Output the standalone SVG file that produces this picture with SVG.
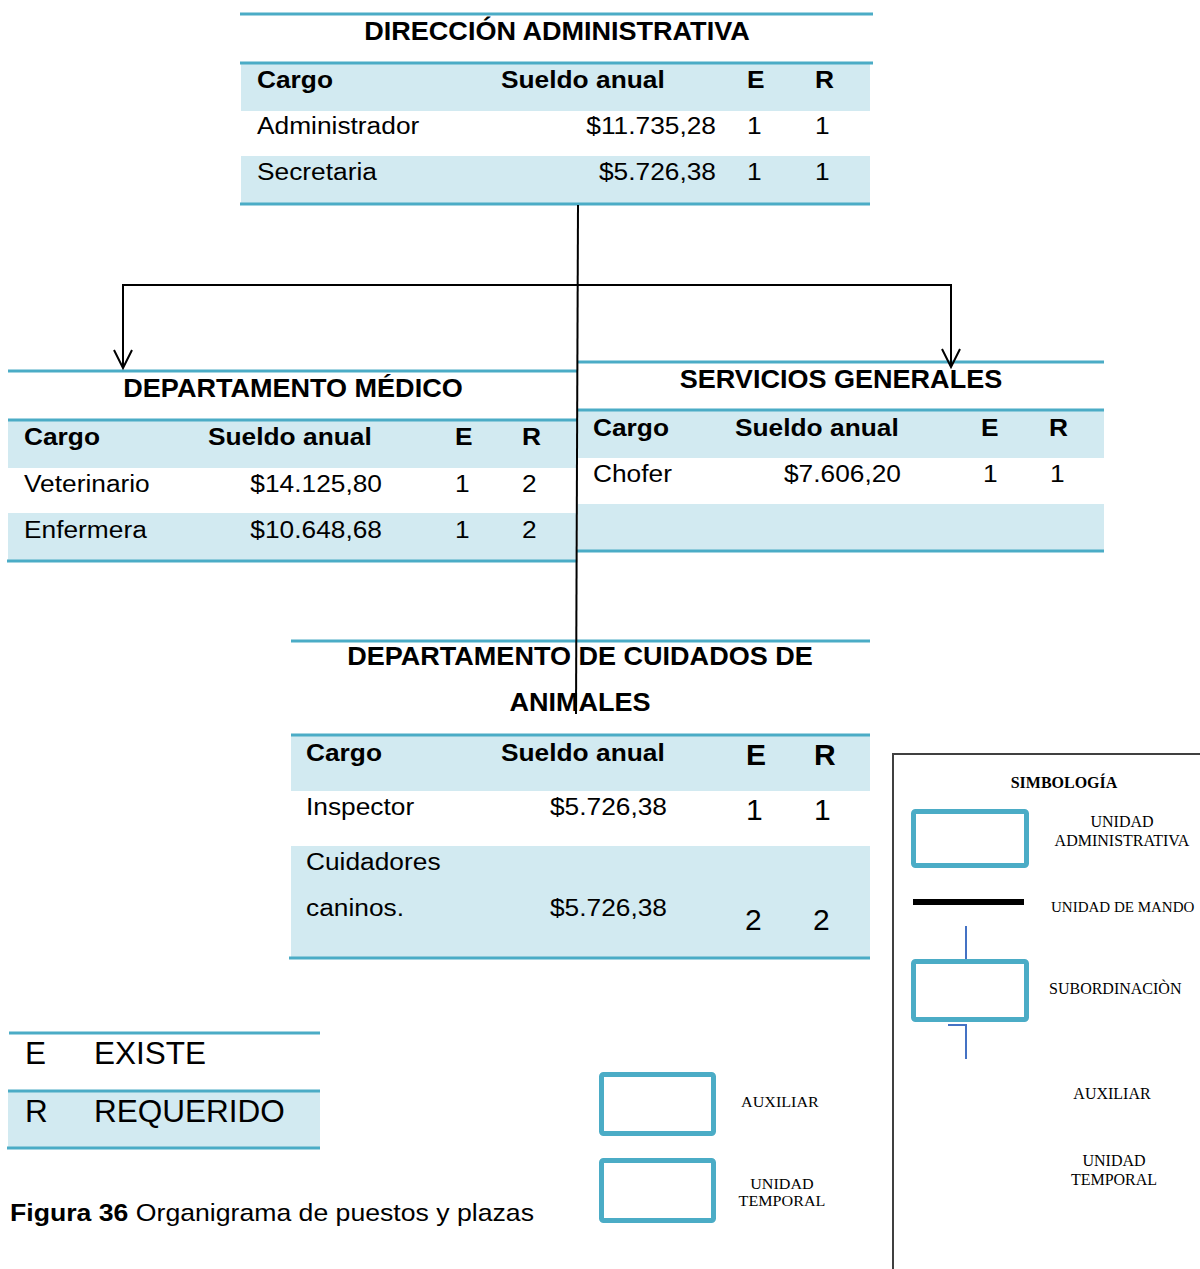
<svg xmlns="http://www.w3.org/2000/svg" width="1200" height="1269" viewBox="0 0 1200 1269">
<style>
text{font-family:"Liberation Sans",Arial,sans-serif;fill:#000}
.tl{stroke:#4BACC6;stroke-width:3}
.band{fill:#D2EAF1}
.ttl{font-size:26px;font-weight:bold;text-anchor:middle;transform-box:fill-box;transform-origin:50% 50%;transform:scaleX(1.04)}
.h{font-size:23.5px;font-weight:bold;transform-box:fill-box;transform-origin:0% 50%;transform:scaleX(1.12)}
.c{font-size:23.5px;transform-box:fill-box;transform-origin:0% 50%;transform:scaleX(1.12)}
.m{font-size:23.5px;text-anchor:end;transform-box:fill-box;transform-origin:100% 50%;transform:scaleX(1.12)}
.big{font-size:30px}
.bigb{font-size:30px;font-weight:bold}
.leg{font-size:31.5px}
.cap{font-size:24px;transform-box:fill-box;transform-origin:0% 50%;transform:scaleX(1.11)}
.ser{font-family:"Liberation Serif","Times New Roman",serif;font-size:16px;text-anchor:middle}
.sers{font-family:"Liberation Serif","Times New Roman",serif;font-size:16px;text-anchor:start}
.sm{font-family:"Liberation Serif","Times New Roman",serif;font-size:14px;text-anchor:middle;transform-box:fill-box;transform-origin:50% 50%;transform:scaleX(1.15)}
.box{fill:none;stroke:#4BACC6;stroke-width:5}
.con{stroke:#000;stroke-width:2;fill:none}
.blue{stroke:#4472C4;stroke-width:2;fill:none}
</style>

<g id="direccion-administrativa">
<rect class="band" x="241" y="63" width="629" height="48"/>
<rect class="band" x="241" y="156" width="629" height="47"/>
<line class="tl" x1="240" y1="14" x2="873" y2="14"/>
<line class="tl" x1="240" y1="63" x2="873" y2="63"/>
<line class="tl" x1="240" y1="204" x2="870" y2="204"/>
<text class="ttl" x="557" y="40">DIRECCIÓN ADMINISTRATIVA</text>
<text class="h" x="257" y="88">Cargo</text>
<text class="h" x="501" y="88">Sueldo anual</text>
<text class="h" x="747" y="88">E</text>
<text class="h" x="815" y="88">R</text>
<text class="c" x="257" y="134">Administrador</text>
<text class="m" x="716" y="134">$11.735,28</text>
<text class="c" x="747" y="134">1</text>
<text class="c" x="815" y="134">1</text>
<text class="c" x="257" y="180">Secretaria</text>
<text class="m" x="716" y="180">$5.726,38</text>
<text class="c" x="747" y="180">1</text>
<text class="c" x="815" y="180">1</text>
</g>

<g id="departamento-medico">
<rect class="band" x="8" y="420" width="568" height="48"/>
<rect class="band" x="8" y="513" width="568" height="47"/>
<line class="tl" x1="8" y1="371" x2="577" y2="371"/>
<line class="tl" x1="8" y1="420" x2="577" y2="420"/>
<line class="tl" x1="7" y1="561" x2="577" y2="561"/>
<text class="ttl" x="293" y="397">DEPARTAMENTO MÉDICO</text>
<text class="h" x="24" y="445">Cargo</text>
<text class="h" x="208" y="445">Sueldo anual</text>
<text class="h" x="455" y="445">E</text>
<text class="h" x="522" y="445">R</text>
<text class="c" x="24" y="492">Veterinario</text>
<text class="m" x="382" y="492">$14.125,80</text>
<text class="c" x="455" y="492">1</text>
<text class="c" x="522" y="492">2</text>
<text class="c" x="24" y="538">Enfermera</text>
<text class="m" x="382" y="538">$10.648,68</text>
<text class="c" x="455" y="538">1</text>
<text class="c" x="522" y="538">2</text>
</g>

<g id="servicios-generales">
<rect class="band" x="578" y="410" width="526" height="48"/>
<rect class="band" x="578" y="504" width="526" height="47"/>
<line class="tl" x1="577" y1="362" x2="1104" y2="362"/>
<line class="tl" x1="577" y1="410" x2="1104" y2="410"/>
<line class="tl" x1="577" y1="551" x2="1104" y2="551"/>
<text class="ttl" x="841" y="388">SERVICIOS GENERALES</text>
<text class="h" x="593" y="436">Cargo</text>
<text class="h" x="735" y="436">Sueldo anual</text>
<text class="h" x="981" y="436">E</text>
<text class="h" x="1049" y="436">R</text>
<text class="c" x="593" y="482">Chofer</text>
<text class="m" x="901" y="482">$7.606,20</text>
<text class="c" x="983" y="482">1</text>
<text class="c" x="1050" y="482">1</text>
</g>

<g id="cuidados-animales">
<rect class="band" x="291" y="735" width="579" height="56"/>
<rect class="band" x="291" y="846" width="579" height="111"/>
<line class="tl" x1="291" y1="641" x2="870" y2="641"/>
<line class="tl" x1="291" y1="735" x2="870" y2="735"/>
<line class="tl" x1="289" y1="958" x2="870" y2="958"/>
<text class="ttl" x="580" y="665">DEPARTAMENTO DE CUIDADOS DE</text>
<text class="ttl" x="580" y="711">ANIMALES</text>
<text class="h" x="306" y="761">Cargo</text>
<text class="h" x="501" y="761">Sueldo anual</text>
<text class="bigb" x="746" y="765">E</text>
<text class="bigb" x="814" y="765">R</text>
<text class="c" x="306" y="815">Inspector</text>
<text class="m" x="667" y="815">$5.726,38</text>
<text class="big" x="746" y="820">1</text>
<text class="big" x="814" y="820">1</text>
<text class="c" x="306" y="870">Cuidadores</text>
<text class="c" x="306" y="916">caninos.</text>
<text class="m" x="667" y="916">$5.726,38</text>
<text class="big" x="745" y="930">2</text>
<text class="big" x="813" y="930">2</text>
</g>

<g id="leyenda-e-r">
<rect class="band" x="8" y="1091" width="312" height="56"/>
<line class="tl" x1="9" y1="1033" x2="320" y2="1033"/>
<line class="tl" x1="8" y1="1091" x2="320" y2="1091"/>
<line class="tl" x1="7" y1="1148" x2="320" y2="1148"/>
<text class="leg" x="25" y="1064">E</text>
<text class="leg" x="94" y="1064">EXISTE</text>
<text class="leg" x="25" y="1122">R</text>
<text class="leg" x="94" y="1122">REQUERIDO</text>
</g>

<g id="caption">
<text class="cap" x="10" y="1221"><tspan font-weight="bold">Figura 36</tspan> Organigrama de puestos y plazas</text>
</g>

<g id="leyenda-cajas">
<rect class="box" x="601.5" y="1074.5" width="112" height="59" rx="2"/>
<text class="sm" x="780" y="1107">AUXILIAR</text>
<rect class="box" x="601.5" y="1160.5" width="112" height="60" rx="2"/>
<text class="sm" x="782" y="1189">UNIDAD</text>
<text class="sm" x="782" y="1206">TEMPORAL</text>
</g>

<g id="simbologia">
<polyline points="893,1269 893,754 1200,754" stroke="#404040" stroke-width="2" fill="none"/>
<text class="ser" x="1064" y="788" style="font-weight:bold">SIMBOLOGÍA</text>
<rect class="box" x="913.5" y="811.5" width="113" height="54" rx="2"/>
<text class="ser" x="1122" y="827">UNIDAD</text>
<text class="ser" x="1122" y="846">ADMINISTRATIVA</text>
<line x1="913" y1="902" x2="1024" y2="902" stroke="#000" stroke-width="6"/>
<text class="sers" x="1051" y="912" style="font-size:15px">UNIDAD DE MANDO</text>
<line class="blue" x1="966" y1="926" x2="966" y2="959"/>
<rect class="box" x="913.5" y="961.5" width="113" height="58" rx="2"/>
<text class="sers" x="1049" y="994">SUBORDINACIÒN</text>
<polyline class="blue" points="948,1025 966,1025 966,1059"/>
<text class="ser" x="1112" y="1099">AUXILIAR</text>
<text class="ser" x="1114" y="1166">UNIDAD</text>
<text class="ser" x="1114" y="1185">TEMPORAL</text>
</g>

<g id="connectors" class="con">
<line x1="578" y1="205" x2="576" y2="714"/>
<polyline points="123,368 123,285 951,285 951,367"/>
<polyline points="114,350 123,368 132,350"/>
<polyline points="942,349 951,367 960,349"/>
</g>
</svg>
